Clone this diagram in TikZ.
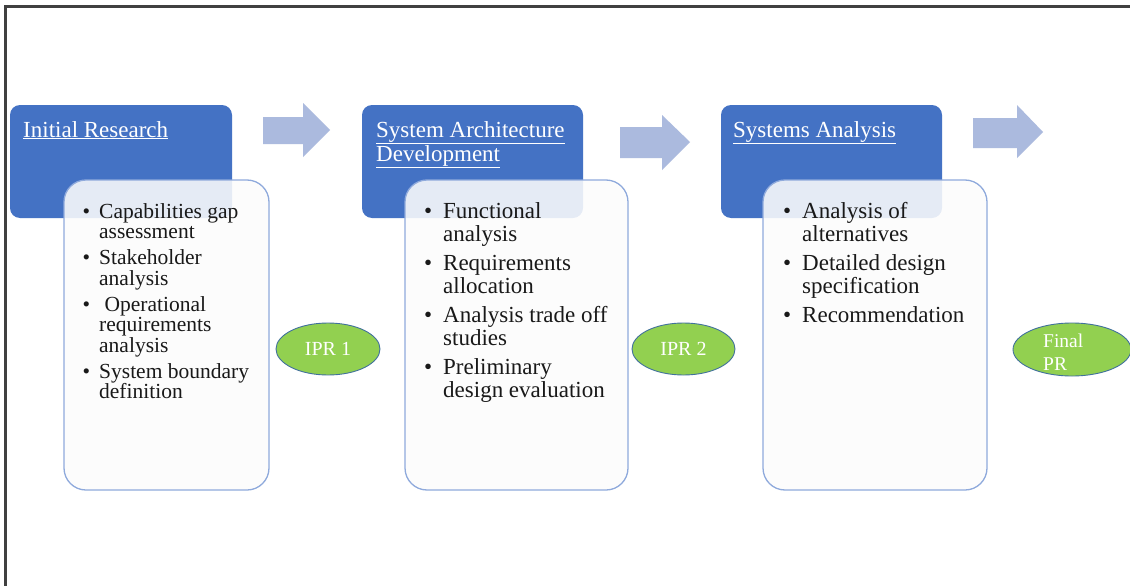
\documentclass[tikz,border=0pt]{standalone}
\usepackage{fontspec}
\setmainfont{Liberation Serif}
\usetikzlibrary{shapes.geometric}
\definecolor{hdblue}{RGB}{68,114,196}
\definecolor{boxedge}{RGB}{143,170,220}
\definecolor{boxfill}{RGB}{252,252,252}
\definecolor{arrowfill}{RGB}{171,186,222}
\definecolor{ipgreen}{RGB}{146,208,80}
\definecolor{ipedge}{RGB}{65,113,156}
\newcommand{\itembul}[1]{\leavevmode\llap{\textbullet\hspace{#1}}}
\tikzset{
  headbox/.style={draw=none, fill=hdblue, rounded corners=10pt, inner sep=0pt},
  listbox/.style={draw=boxedge, line width=1.3pt, fill=boxfill, fill opacity=0.88, rounded corners=22pt, inner sep=0pt},
  headtext/.style={anchor=base west, inner sep=0pt, text=white},
  listtext/.style={anchor=base west, inner sep=0pt, text=black!90},
  stage/.style={fill=arrowfill, draw=none},
  review/.style={ellipse, draw=ipedge, line width=0.9pt, fill=ipgreen, inner sep=0pt, text=white, font=\fontsize{20}{22}\selectfont},
  frameline/.style={draw=black!75, line width=2.5pt}
}
\begin{document}
\begin{tikzpicture}[x=1pt,y=-1pt]
\useasboundingbox (0,0) rectangle (1130,586);
\clip (0,0) rectangle (1130,586);
\fill[white] (0,0) rectangle (1130,586);
% frame
\draw[frameline] (5.5,586) -- (5.5,6.5) -- (1130,6.5);

% blue heading boxes
\node[headbox, minimum width=222pt, minimum height=113pt] (hA) at (121,161.5) {};
\node[headbox, minimum width=221pt, minimum height=113pt] (hB) at (472.5,161.5) {};
\node[headbox, minimum width=221pt, minimum height=113pt] (hC) at (831.5,161.5) {};

% heading texts
\node[headtext] (tA) at (23,137) {\fontsize{23}{24}\selectfont\underline{Initial Research}};
\node[headtext] (tB) at (376,137) {\parbox[t]{210pt}{\fontsize{23}{24}\selectfont\underline{System Architecture}\\\underline{Development}}};
\node[headtext] (tC) at (733,137) {\fontsize{23}{24}\selectfont\underline{Systems Analysis}};

% list boxes
\node[listbox, minimum width=205pt, minimum height=310pt] (lA) at (166.5,335) {};
\node[listbox, minimum width=223pt, minimum height=310pt] (lB) at (516.5,335) {};
\node[listbox, minimum width=224pt, minimum height=310pt] (lC) at (875,335) {};

% list texts
\node[listtext] (iA) at (99,218) {\parbox[t]{165pt}{\fontsize{21.5}{20.5}\selectfont\setlength{\parskip}{5.5pt}\setlength{\parindent}{0pt}%
\itembul{9pt}Capabilities gap\\assessment\par
\itembul{9pt}Stakeholder\\analysis\par
\itembul{9pt}\ Operational\\requirements\\analysis\par
\itembul{9pt}System boundary\\definition}};
\node[listtext] (iB) at (443,218) {\parbox[t]{180pt}{\fontsize{23}{23.3}\selectfont\setlength{\parskip}{5.5pt}\setlength{\parindent}{0pt}%
\itembul{11pt}Functional\\analysis\par
\itembul{11pt}Requirements\\allocation\par
\itembul{11pt}Analysis trade off\\studies\par
\itembul{11pt}Preliminary\\design evaluation}};
\node[listtext] (iC) at (802,218) {\parbox[t]{180pt}{\fontsize{23}{23.3}\selectfont\setlength{\parskip}{5.5pt}\setlength{\parindent}{0pt}%
\itembul{11pt}Analysis of\\alternatives\par
\itembul{11pt}Detailed design\\specification\par
\itembul{11pt}Recommendation}};

% stage arrows
\fill[stage] (263,117) -- (303,117) -- (303,103) -- (330,130) -- (303,157) -- (303,144) -- (263,144) -- cycle;
\fill[stage] (620,127) -- (662,127) -- (662,115) -- (690,142) -- (662,170) -- (662,158) -- (620,158) -- cycle;
\fill[stage] (973,118) -- (1017,118) -- (1017,105) -- (1043,132) -- (1017,158) -- (1017,148) -- (973,148) -- cycle;

% review ellipses
\node[review, minimum width=104pt, minimum height=52pt] (r1) at (328,349) {IPR 1};
\node[review, minimum width=103pt, minimum height=52pt] (r2) at (683.5,349) {IPR 2};
\node[review, minimum width=118pt, minimum height=53pt] (r3) at (1072,349.5) {};
\node[anchor=base west, inner sep=0pt, text=white] (r3t) at (1043,347) {\parbox[t]{60pt}{\fontsize{19.5}{23}\selectfont Final\\PR}};
\end{tikzpicture}
\end{document}
